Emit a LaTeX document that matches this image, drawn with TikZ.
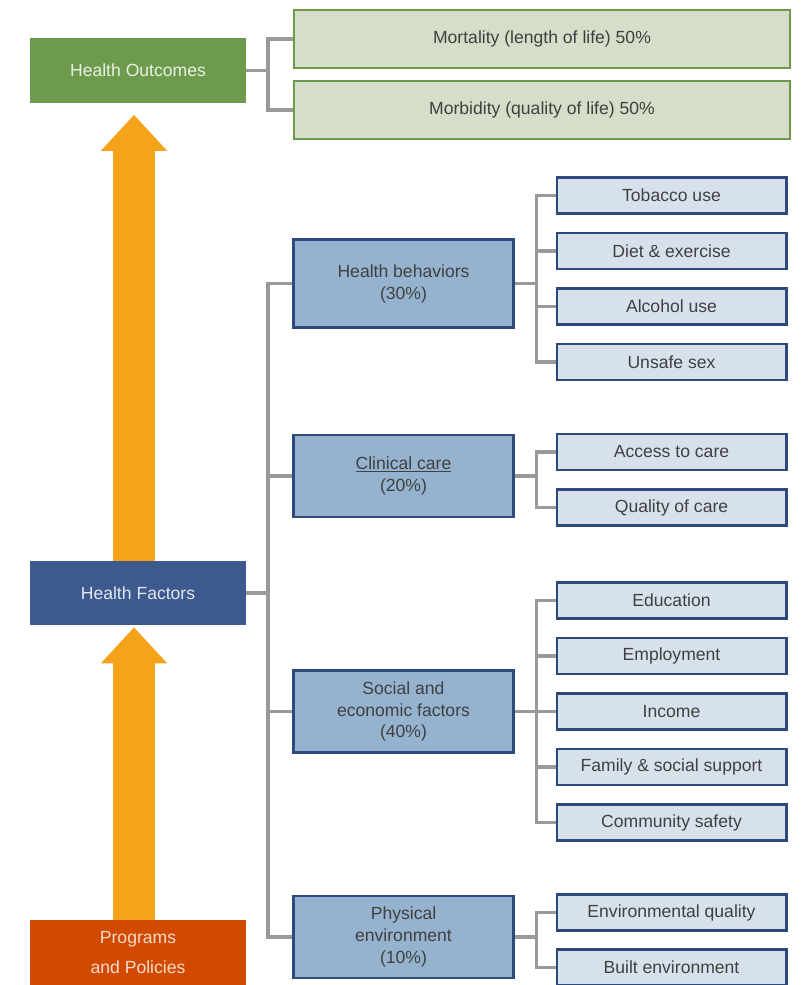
\documentclass[tikz,border=0pt]{standalone}
\usepackage{fontspec}
\setmainfont{Liberation Sans}
\usepackage{xcolor}
\usetikzlibrary{arrows.meta}
\definecolor{hoGreen}{HTML}{6E9A4E}
\definecolor{hoLight}{HTML}{D5DEC9}
\definecolor{hfBlue}{HTML}{3D5A8E}
\definecolor{midBlue}{HTML}{95B3CF}
\definecolor{leafBlue}{HTML}{D7E1EC}
\definecolor{edgeBlue}{HTML}{2E4A7D}
\definecolor{ppRed}{HTML}{D24A00}
\definecolor{arrOrange}{HTML}{F5A31A}
\definecolor{busGray}{HTML}{999999}
\definecolor{txtGray}{HTML}{404040}
\tikzset{
  boxfont/.style  = {font=\fontsize{12.5}{15.6}\selectfont},
  mainbox/.style  = {boxfont,minimum width=5.4cm,minimum height=1.6cm,inner sep=0pt,align=center},
  outbox/.style   = {boxfont,draw=hoGreen,fill=hoLight,line width=2pt,text=txtGray,
                     minimum width=12.4cm,minimum height=1.45cm,inner sep=0pt},
  factbox/.style  = {boxfont,draw=edgeBlue,fill=midBlue,line width=2.1pt,text=txtGray,align=center,
                     minimum width=5.475cm,minimum height=2.05cm,inner sep=0pt},
  leafbox/.style  = {boxfont,draw=edgeBlue,fill=leafBlue,line width=2.1pt,text=txtGray,
                     minimum width=5.725cm,minimum height=0.9cm,inner sep=0pt},
  bus/.style      = {busGray,line width=2.7pt},
  bigarr/.style   = {arrOrange,line width=1.05cm,-{Triangle[length=0.9cm,width=1.6cm]}}
}

\begin{document}
\begin{tikzpicture}[x=0.025cm,y=-0.025cm]
  \useasboundingbox (0,0) rectangle (803,985);
  % left column
  \node[mainbox,fill=hoGreen,text=white!85!hoGreen] (ho) at (138,70.5)  {Health Outcomes};
  \node[mainbox,fill=hfBlue,text=white!85!hfBlue]   (hf) at (138,593)   {Health Factors};
  \node[mainbox,fill=ppRed,text=white!80!ppRed,minimum height=1.625cm,
        font=\fontsize{12.5}{21}\selectfont]        (pp) at (138,952.5) {Programs\\and Policies};
  \draw[bigarr] ([xshift=-0.1cm]hf.north) -- ([xshift=-0.1cm,yshift=-0.3cm]ho.south);
  \draw[bigarr] ([xshift=-0.1cm]pp.north) -- ([xshift=-0.1cm,yshift=-0.05cm]hf.south);
  % outcomes
  \node[outbox] (mort) at (542,39)  {Mortality (length of life) 50\%};
  \node[outbox] (morb) at (542,110) {Morbidity (quality of life) 50\%};
  \draw[bus] (ho.east) -- ++(22,0) |- (mort.west);
  \draw[bus] (ho.east) -- ++(22,0) |- (morb.west);
  % factors
  \node[factbox,minimum height=2.2cm] (hb) at (403.5,283.5) {Health behaviors\\(30\%)};
  \node[factbox] (cc) at (403.5,476)   {\underline{Clinical care}\\(20\%)};
  \node[factbox] (se) at (403.5,711.5) {Social and\\economic factors\\(40\%)};
  \node[factbox] (pe) at (403.5,937)   {Physical\\environment\\(10\%)};
  \foreach \c in {hb,cc,se,pe}
    \draw[bus] (hf.east) -- ++(22,0) |- (\c.west);
  % leaves
  \foreach \nm/\yy/\txt in {tob/195.5/Tobacco use, diet/251/Diet \& exercise,
      alc/306.5/Alcohol use, sex/362/Unsafe sex, acc/452/Access to care,
      qual/507.5/Quality of care, edu/600.5/Education, emp/656/Employment,
      inc/711.5/Income, fam/767/Family \& social support, safe/822.5/Community safety,
      env/912.5/Environmental quality, built/967.5/Built environment}
    \node[leafbox] (\nm) at (671.5,\yy) {\txt};
  \foreach \p/\c in {hb/tob,hb/diet,hb/alc,hb/sex,cc/acc,cc/qual,se/edu,se/emp,
      se/inc,se/fam,se/safe,pe/env,pe/built}
    \draw[bus] (\p.east) -- ++(22,0) |- (\c.west);
\end{tikzpicture}
\end{document}
